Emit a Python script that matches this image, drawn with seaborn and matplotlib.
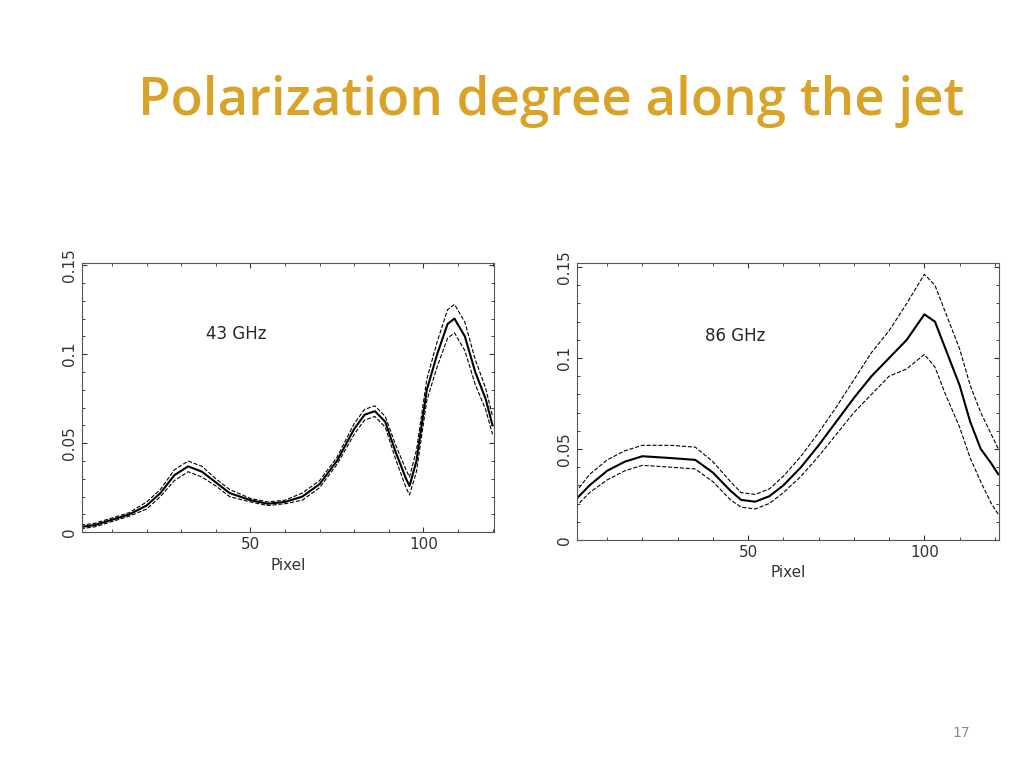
import numpy as np
import matplotlib
matplotlib.use("Agg")
import matplotlib.pyplot as plt
import seaborn as sns
import pandas as pd

sns.set_style("ticks")

# 43 GHz
x43 = [1, 5, 10, 15, 20, 24, 28, 32, 36, 40, 44, 50, 55, 60, 65, 70, 75, 80, 83, 86, 89, 92, 95, 96, 98, 101, 104, 107, 109, 112, 115, 118, 120]
p43 = [0.003, 0.004, 0.007, 0.010, 0.015, 0.022, 0.032, 0.037, 0.034, 0.028, 0.022, 0.018, 0.016, 0.017, 0.020, 0.027, 0.040, 0.058, 0.066, 0.068, 0.062, 0.045, 0.030, 0.026, 0.040, 0.080, 0.100, 0.117, 0.120, 0.110, 0.090, 0.075, 0.060]
e43 = [0.001, 0.001, 0.001, 0.001, 0.002, 0.002, 0.003, 0.003, 0.003, 0.002, 0.002, 0.001, 0.001, 0.001, 0.002, 0.002, 0.002, 0.003, 0.003, 0.003, 0.003, 0.004, 0.005, 0.005, 0.006, 0.006, 0.007, 0.008, 0.008, 0.008, 0.007, 0.006, 0.005]

# 86 GHz
x86 = [1, 5, 10, 15, 20, 28, 35, 40, 45, 48, 52, 56, 60, 65, 70, 75, 80, 85, 90, 95, 100, 103, 106, 110, 113, 116, 119, 121]
p86 = [0.022, 0.030, 0.038, 0.043, 0.046, 0.045, 0.044, 0.037, 0.027, 0.022, 0.021, 0.024, 0.030, 0.040, 0.052, 0.065, 0.078, 0.090, 0.100, 0.110, 0.124, 0.120, 0.105, 0.085, 0.065, 0.050, 0.042, 0.036]
up86 = [0.026, 0.036, 0.044, 0.049, 0.052, 0.052, 0.051, 0.043, 0.032, 0.026, 0.025, 0.028, 0.035, 0.046, 0.059, 0.073, 0.088, 0.103, 0.115, 0.130, 0.146, 0.140, 0.125, 0.105, 0.085, 0.070, 0.058, 0.050]
lo86 = [0.018, 0.026, 0.033, 0.038, 0.041, 0.040, 0.039, 0.032, 0.022, 0.018, 0.017, 0.020, 0.026, 0.035, 0.046, 0.058, 0.070, 0.080, 0.090, 0.094, 0.102, 0.095, 0.080, 0.062, 0.045, 0.032, 0.020, 0.014]

fig = plt.figure(figsize=(10.24, 7.68), dpi=100)
fig.text(0.135, 0.85, "Polarization degree along the jet", fontsize=38,
         color="#D9A327", family="Open Sans", fontweight="semibold")
fig.text(0.93, 0.04, "17", fontsize=10, color="#888888")

def panel(rect, x, mid, lo, hi, ylim_top, label, ly):
    ax = fig.add_axes(rect)
    df = pd.DataFrame({"x": x, "m": mid, "lo": lo, "hi": hi})
    sns.lineplot(data=df, x="x", y="m", color="black", lw=1.5, ax=ax)
    sns.lineplot(data=df, x="x", y="lo", color="black", lw=0.8, ls="--", ax=ax)
    sns.lineplot(data=df, x="x", y="hi", color="black", lw=0.8, ls="--", ax=ax)
    ax.set_xlim(x[0] + 0.3, x[-1] + 0.3)
    ax.set_ylim(0, ylim_top)
    ax.set_xticks([50, 100])
    ax.set_yticks([0, 0.05, 0.1, 0.15])
    ax.set_yticklabels(["0", "0.05", "0.1", "0.15"], rotation=90, va="center")
    ax.tick_params(direction="in", top=True, right=True, labelsize=11, colors="#333333")
    ax.xaxis.set_minor_locator(matplotlib.ticker.MultipleLocator(10))
    ax.yaxis.set_minor_locator(matplotlib.ticker.MultipleLocator(0.01))
    ax.tick_params(which="minor", direction="in", top=True, right=True)
    ax.set_xlabel("Pixel", fontsize=11, color="#333333")
    ax.set_ylabel("")
    for s in ax.spines.values():
        s.set_color("#555555")
    ax.text(0.375, ly, label, transform=ax.transAxes, fontsize=12, ha="center")
    return ax

panel([0.080, 0.307, 0.402, 0.350], x43,
      p43, [a - b for a, b in zip(p43, e43)], [a + b for a, b in zip(p43, e43)], 0.151, "43 GHz", 0.72)
panel([0.563, 0.297, 0.413, 0.360], x86, p86, lo86, up86, 0.152, "86 GHz", 0.72)

fig.savefig("out.png", dpi=100)
